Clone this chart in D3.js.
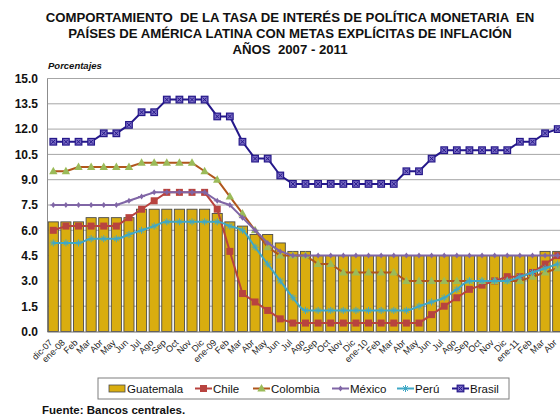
<!DOCTYPE html>
<html><head><meta charset="utf-8">
<script src="https://cdn.jsdelivr.net/npm/d3@7"></script>
<style>
html,body{margin:0;padding:0;background:#fff;overflow:hidden}
text{font-family:Arial,"Liberation Sans",sans-serif}
</style></head>
<body>
<svg id="chart" width="560" height="418"></svg>
<script>
const categories = ["dic-07","ene-08","Feb","Mar","Abr","May","Jun","Jul","Ago","Sep","Oct","Nov","Dic",
  "ene-09","Feb","Mar","Abr","May","Jun","Jul","Ago","Sep","Oct","Nov","Dic",
  "ene-10","Feb","Mar","Abr","May","Jun","Jul","Ago","Sep","Oct","Nov","Dic",
  "ene-11","Feb","Mar","Abr"];
const guatemala = [6.5,6.5,6.5,6.75,6.75,6.75,6.75,7.25,7.25,7.25,7.25,7.25,7.25,7.0,6.5,6.25,5.75,5.75,5.25,4.75,4.75,
  4.5,4.5,4.5,4.5,4.5,4.5,4.5,4.5,4.5,4.5,4.5,4.5,4.5,4.5,4.5,4.5,4.5,4.5,4.75,4.75];
const chile = [6.0,6.25,6.25,6.25,6.25,6.25,6.75,7.25,7.75,8.25,8.25,8.25,8.25,7.25,4.75,2.25,1.75,1.25,0.75,
  0.5,0.5,0.5,0.5,0.5,0.5,0.5,0.5,0.5,0.5,0.5,1.0,1.5,2.0,2.5,2.75,3.0,3.25,3.25,3.5,4.0,4.5];
const colombia = [9.5,9.5,9.75,9.75,9.75,9.75,9.75,10,10,10,10,10,9.5,9.0,8.0,7.0,6.0,5.0,4.5,4.5,4.5,4.0,4.0,
  3.5,3.5,3.5,3.5,3.5,3.0,3.0,3.0,3.0,3.0,3.0,3.0,3.0,3.0,3.0,3.25,3.5,3.75];
const mexico = [7.5,7.5,7.5,7.5,7.5,7.5,7.75,8.0,8.25,8.25,8.25,8.25,8.25,7.75,7.5,6.75,6.0,5.25,4.75,
  4.5,4.5,4.5,4.5,4.5,4.5,4.5,4.5,4.5,4.5,4.5,4.5,4.5,4.5,4.5,4.5,4.5,4.5,4.5,4.5,4.5,4.5];
const peru = [5.25,5.25,5.25,5.5,5.5,5.5,5.75,6.0,6.25,6.5,6.5,6.5,6.5,6.5,6.25,6.0,5.0,4.0,3.0,2.0,
  1.25,1.25,1.25,1.25,1.25,1.25,1.25,1.25,1.25,1.5,1.75,2.0,2.5,3.0,3.0,3.0,3.0,3.25,3.5,3.75,4.0];
const brasil = [11.25,11.25,11.25,11.25,11.75,11.75,12.25,13.0,13.0,13.75,13.75,13.75,13.75,12.75,12.75,11.25,10.25,10.25,9.25,
  8.75,8.75,8.75,8.75,8.75,8.75,8.75,8.75,8.75,9.5,9.5,10.25,10.75,10.75,10.75,10.75,10.75,10.75,11.25,11.25,11.75,12.0];
const yTicks = [0,1.5,3.0,4.5,6.0,7.5,9.0,10.5,12.0,13.5,15.0];
const titleLines = ["COMPORTAMIENTO  DE LA TASA DE INTERÉS DE POLÍTICA MONETARIA  EN",
  "PAÍSES DE AMÉRICA LATINA CON METAS EXPLÍCITAS DE INFLACIÓN",
  "AÑOS  2007 - 2011"];

const svg = d3.select("#chart");
const plotLeft = 47, plotTop = 78.5, plotBottom = 331.5, step = 12.61;
const plotRight = plotLeft + step * categories.length;
const idx = categories.map((d,i)=>i);
const x = d3.scaleBand().domain(idx).range([plotLeft, plotRight]).paddingInner(0.2).paddingOuter(0.1);
const cx = i => x(i) + x.bandwidth()/2;
const y = d3.scaleLinear().domain([0,15]).range([plotBottom, plotTop]);

// title
svg.append("g").selectAll("text").data(titleLines).join("text")
  .attr("x", 290).attr("y", (d,i)=>22 + i*16)
  .attr("text-anchor","middle").attr("font-size",13.2).attr("font-weight","bold")
  .attr("fill","#111").style("white-space","pre").text(d=>d);

svg.append("text").attr("x",48).attr("y",69).attr("font-size",9.5)
  .attr("font-weight","bold").attr("font-style","italic").attr("fill","#111").text("Porcentajes");

// gridlines
svg.append("g").selectAll("line").data(yTicks.filter(d=>d>0)).join("line")
  .attr("x1", plotLeft).attr("x2", plotRight).attr("y1", d=>y(d)).attr("y2", d=>y(d))
  .attr("stroke","#a6a6a6").attr("stroke-width",1);

// y axis
const yAxis = d3.axisLeft(y).tickValues(yTicks).tickFormat(d3.format(".1f")).tickSize(0).tickPadding(9);
const ya = svg.append("g").attr("transform",`translate(${plotLeft},0)`).call(yAxis);
ya.select(".domain").attr("stroke","#8c8c8c");
ya.selectAll("text").attr("font-size",12).attr("font-weight","bold").attr("fill","#111")
  .style("font-family","Arial, 'Liberation Sans', sans-serif");

// bars
svg.append("g").selectAll("rect").data(guatemala).join("rect")
  .attr("x",(d,i)=>x(i)).attr("width",x.bandwidth())
  .attr("y",d=>y(d)).attr("height",d=>y(0)-y(d))
  .attr("fill","#d9ad0f").attr("stroke","#4a4a4a").attr("stroke-width",0.9);

// x axis
const xAxis = d3.axisBottom(x).tickFormat(i=>categories[i]).tickSize(0).tickPadding(4);
const xa = svg.append("g").attr("transform",`translate(0,${plotBottom})`).call(xAxis);
xa.select(".domain").attr("stroke","#6e6e6e");
xa.selectAll("text").attr("font-size",9).attr("fill","#222")
  .style("font-family","Arial, 'Liberation Sans', sans-serif")
  .attr("text-anchor","end").attr("dy","0.3em")
  .attr("transform","translate(-5,7) rotate(-45)");

const series = [
  {name:"Chile", data:chile, color:"#b8433f", marker:"square", curve:d3.curveLinear},
  {name:"Colombia", data:colombia, color:"#b0561c", marker:"triangle", mcolor:"#9bbb59", curve:d3.curveLinear},
  {name:"México", data:mexico, color:"#8066a6", marker:"diamond", curve:d3.curveLinear},
  {name:"Perú", data:peru, color:"#3fa8c6", marker:"star", curve:d3.curveMonotoneX},
  {name:"Brasil", data:brasil, color:"#25188a", marker:"xsquare", curve:d3.curveLinear}
];

function drawMarker(g, type, color, mcolor) {
  if (type==="square") {
    g.append("rect").attr("x",-3.5).attr("y",-3.5).attr("width",7).attr("height",7).attr("fill",color);
  } else if (type==="triangle") {
    g.append("path").attr("d","M0,-4.5L4.2,3L-4.2,3Z").attr("fill",mcolor);
  } else if (type==="diamond") {
    g.append("path").attr("d","M0,-3L2.2,0L0,3L-2.2,0Z").attr("fill",color);
    g.append("path").attr("d","M-3.5,0H3.5").attr("stroke",color).attr("stroke-width",1);
  } else if (type==="star") {
    g.append("path").attr("d","M-3.5,0H3.5M0,-3.5V3.5M-2.5,-2.5L2.5,2.5M-2.5,2.5L2.5,-2.5")
      .attr("stroke",color).attr("stroke-width",1);
  } else if (type==="xsquare") {
    g.append("rect").attr("x",-3.3).attr("y",-3.3).attr("width",6.6).attr("height",6.6)
      .attr("fill","#7a6cc4").attr("stroke",color).attr("stroke-width",1.2);
    g.append("path").attr("d","M-2,-2L2,2M-2,2L2,-2").attr("stroke",color).attr("stroke-width",1);
  }
}

series.forEach(s=>{
  const line = d3.line().x((d,i)=>cx(i)).y(d=>y(d)).curve(s.curve);
  svg.append("path").datum(s.data).attr("d",line).attr("fill","none")
    .attr("stroke",s.color).attr("stroke-width",2).attr("stroke-linejoin","round");
  svg.append("g").selectAll("g").data(s.data).join("g")
    .attr("transform",(d,i)=>`translate(${cx(i)},${y(d)})`)
    .each(function(){ drawMarker(d3.select(this), s.marker, s.color, s.mcolor); });
});

// legend
const lg = svg.append("g");
lg.append("rect").attr("x",98).attr("y",378).attr("width",411).attr("height",21)
  .attr("fill","#fff").attr("stroke","#7f7f7f").attr("stroke-width",1);
lg.append("rect").attr("x",109).attr("y",385).attr("width",16).attr("height",7)
  .attr("fill","#d9ad0f").attr("stroke","#4a4a4a").attr("stroke-width",0.8);
lg.append("text").attr("x",127).attr("y",393).attr("font-size",11.5).attr("fill","#111").text("Guatemala");
const legX = [195, 253, 332, 397, 452];
series.forEach((s,k)=>{
  const g = lg.append("g");
  g.append("line").attr("x1",legX[k]).attr("x2",legX[k]+17).attr("y1",388.5).attr("y2",388.5)
    .attr("stroke",s.color).attr("stroke-width",2);
  const m = g.append("g").attr("transform",`translate(${legX[k]+8.5},388.5)`);
  drawMarker(m, s.marker, s.color, s.mcolor);
  g.append("text").attr("x",legX[k]+18).attr("y",393).attr("font-size",11.5).attr("fill","#111").text(s.name);
});

svg.append("text").attr("x",42).attr("y",414).attr("font-size",11.5).attr("font-weight","bold")
  .attr("fill","#111").text("Fuente: Bancos centrales.");
</script>
</body></html>
